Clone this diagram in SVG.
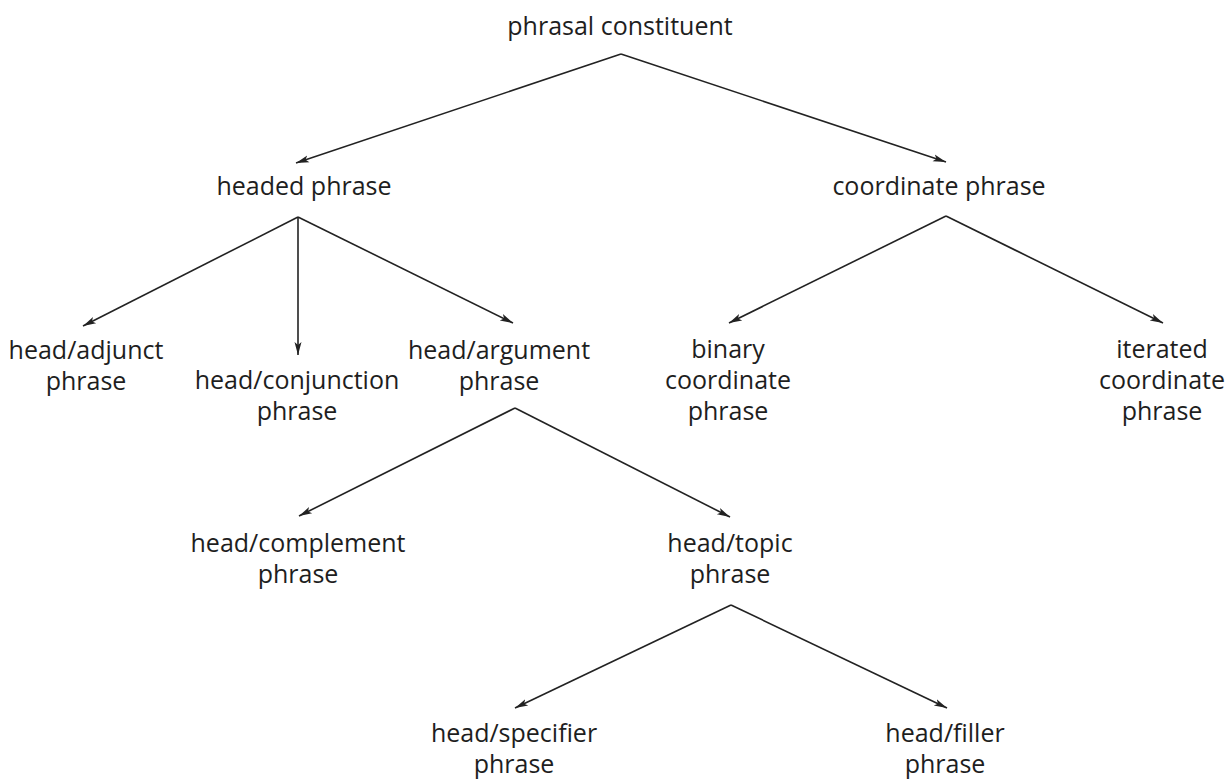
<svg xmlns="http://www.w3.org/2000/svg" width="1229" height="780" viewBox="0 0 1229 780">
  <style>
    .lbl { font-family: "Open Sans", "DejaVu Sans", sans-serif; font-size: 25px; fill: #1e1e1e; text-anchor: middle; }
    .edge { stroke: #222; stroke-width: 1.6; fill: none; marker-end: url(#arrow); }
  </style>
  <defs>
    <marker id="arrow" markerUnits="userSpaceOnUse" markerWidth="14" markerHeight="10" viewBox="0 0 14 10" refX="13" refY="5" orient="auto">
      <path d="M0,1.5 L13,5 L0,8.5 L3,5 Z" fill="#222"/>
    </marker>
  </defs>
  <rect width="1229" height="780" fill="#ffffff"/>

  <!-- connectors: each parent fans out from a single apex point -->
  <g id="connectors">
    <path class="edge" d="M621,54 L296,163"/>
    <path class="edge" d="M621,54 L946,162"/>
    <path class="edge" d="M298,217 L83,326"/>
    <path class="edge" d="M298,217 L298,355"/>
    <path class="edge" d="M298,217 L513,323"/>
    <path class="edge" d="M946,216 L729,323"/>
    <path class="edge" d="M946,216 L1163,323"/>
    <path class="edge" d="M515,408 L299,516"/>
    <path class="edge" d="M515,408 L730,517"/>
    <path class="edge" d="M731,605 L515,708"/>
    <path class="edge" d="M731,605 L947,708"/>
  </g>

  <g id="phrasal-constituent"><text class="lbl" x="620" y="35">phrasal constituent</text></g>
  <g id="headed-phrase"><text class="lbl" x="304" y="195">headed phrase</text></g>
  <g id="coordinate-phrase"><text class="lbl" x="939" y="195">coordinate phrase</text></g>

  <g id="head-adjunct-phrase">
    <text class="lbl" x="86" y="359">head/adjunct<tspan x="86" dy="31">phrase</tspan></text>
  </g>
  <g id="head-conjunction-phrase">
    <text class="lbl" x="297" y="389">head/conjunction<tspan x="297" dy="31">phrase</tspan></text>
  </g>
  <g id="head-argument-phrase">
    <text class="lbl" x="499" y="359">head/argument<tspan x="499" dy="31">phrase</tspan></text>
  </g>
  <g id="binary-coordinate-phrase">
    <text class="lbl" x="728" y="358">binary<tspan x="728" dy="31">coordinate</tspan><tspan x="728" dy="31">phrase</tspan></text>
  </g>
  <g id="iterated-coordinate-phrase">
    <text class="lbl" x="1162" y="358">iterated<tspan x="1162" dy="31">coordinate</tspan><tspan x="1162" dy="31">phrase</tspan></text>
  </g>

  <g id="head-complement-phrase">
    <text class="lbl" x="298" y="552">head/complement<tspan x="298" dy="31">phrase</tspan></text>
  </g>
  <g id="head-topic-phrase">
    <text class="lbl" x="730" y="552">head/topic<tspan x="730" dy="31">phrase</tspan></text>
  </g>

  <g id="head-specifier-phrase">
    <text class="lbl" x="514" y="742">head/specifier<tspan x="514" dy="31">phrase</tspan></text>
  </g>
  <g id="head-filler-phrase">
    <text class="lbl" x="945" y="742">head/filler<tspan x="945" dy="31">phrase</tspan></text>
  </g>
</svg>
